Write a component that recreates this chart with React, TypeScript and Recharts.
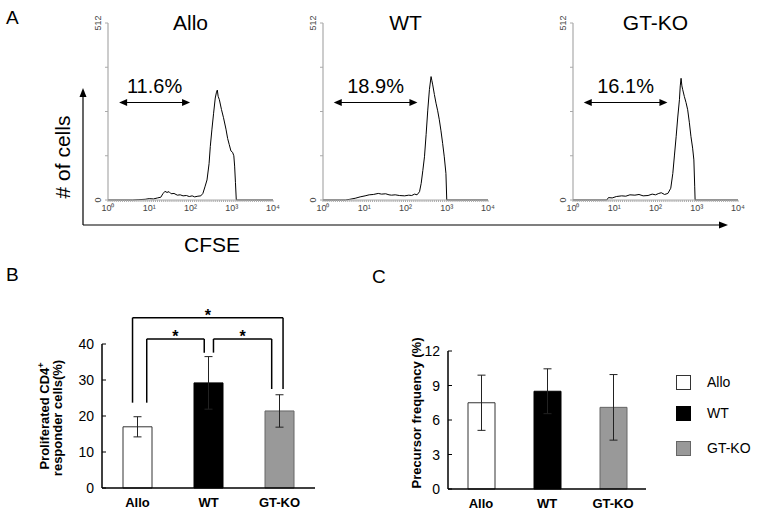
import React from 'react';
import {
  LineChart,
  Line,
  XAxis,
  YAxis,
  ReferenceLine,
  BarChart,
  Bar,
  Cell,
  ErrorBar,
} from 'recharts';

// groups / panel titles
const groups = ['Allo', 'WT', 'GT-KO'];

// CFSE histograms: [log10 CFSE, # of cells]
const alloHist: [number, number][] = [
  [0, 0], [0.6, 0], [0.75, 1], [0.9, 2], [1.0, 4], [1.1, 3], [1.2, 6], [1.28, 8],
  [1.33, 18], [1.38, 25], [1.43, 22], [1.48, 24], [1.53, 18], [1.6, 19], [1.68, 14],
  [1.75, 15], [1.82, 12], [1.9, 13], [1.97, 10], [2.04, 12], [2.1, 9], [2.18, 11],
  [2.25, 12], [2.3, 19], [2.35, 38], [2.4, 58], [2.45, 105], [2.48, 155], [2.52, 205],
  [2.56, 251], [2.6, 295], [2.63, 312], [2.65, 318], [2.67, 300], [2.7, 290],
  [2.75, 262], [2.8, 238], [2.86, 205], [2.9, 178], [2.94, 160], [2.98, 142],
  [3.02, 138], [3.05, 128], [3.07, 98], [3.09, 50], [3.11, 0], [4, 0],
];
const wtHist: [number, number][] = [
  [0, 0], [0.54, 0], [0.65, 2], [0.78, 5], [0.9, 9], [1.02, 12], [1.12, 15],
  [1.22, 16], [1.34, 19], [1.42, 17], [1.52, 18], [1.6, 15], [1.66, 14], [1.75, 15],
  [1.85, 13], [1.98, 12], [2.08, 14], [2.15, 13], [2.22, 17], [2.28, 15],
  [2.34, 24], [2.38, 48], [2.42, 85], [2.46, 125], [2.5, 190], [2.54, 260],
  [2.58, 320], [2.62, 357], [2.64, 345], [2.66, 333], [2.7, 305], [2.74, 280],
  [2.78, 258], [2.82, 232], [2.86, 200], [2.9, 164], [2.94, 125], [2.98, 77],
  [3.0, 0], [4, 0],
];
const gtkoHist: [number, number][] = [
  [0, 0], [0.82, 0], [0.86, 7], [0.95, 6], [1.05, 10], [1.18, 12], [1.28, 11],
  [1.38, 15], [1.5, 14], [1.6, 16], [1.7, 12], [1.82, 13], [1.92, 17], [2.0, 15],
  [2.08, 19], [2.14, 21], [2.22, 16], [2.3, 19], [2.37, 34], [2.42, 77],
  [2.46, 130], [2.5, 183], [2.54, 240], [2.58, 290], [2.6, 330], [2.62, 352],
  [2.64, 330], [2.66, 319], [2.7, 299], [2.74, 282], [2.78, 261], [2.82, 225],
  [2.86, 183], [2.9, 150], [2.93, 116], [2.95, 40], [2.96, 0], [4, 0],
];
const histograms = [alloHist, wtHist, gtkoHist];

// gates (proliferated fraction)
const gatePercents = ['11.6%', '18.9%', '16.1%'];
const gateStart = [0.27, 0.26, 0.26];
const gateEnd = [1.99, 2.29, 2.29];
const gateLevel = 282;

const decadeLabels = ['10⁰', '10¹', '10²', '10³', '10⁴'];
const countTicks = [0, 128, 256, 384, 512];

// panel B
const proliferated = [17.0, 29.2, 21.4];
const proliferatedErr = [2.8, 7.3, 4.5];
const proliferatedTicks = [0, 10, 20, 30, 40];
// significance brackets (x in group position units, y in %)
const bracketFrom = [-0.07, 0.13, 1.07];
const bracketTo = [2.05, 0.94, 1.89];
const bracketTop = [47.3, 41.4, 41.4];
const bracketLeftEnd = [23.7, 23.7, 37.6];
const bracketRightEnd = [27.5, 37.6, 27.5];

// panel C
const precursor = [7.5, 8.5, 7.1];
const precursorErr = [2.4, 1.95, 2.85];
const precursorTicks = [0, 3, 6, 9, 12];

const barFill = ['#ffffff', '#000000', '#999999'];
const barStroke = ['#333333', '#000000', '#666666'];

const FONT = 'Arial, "Liberation Sans", Helvetica, sans-serif';

const minorTicks = Array.from({ length: 81 }, (_, i) => i * 0.05);

const HistTick = (props: any) => {
  const { x, y, payload } = props;
  const v = payload.value;
  if (Math.abs(v - Math.round(v)) > 1e-6) return null;
  return (
    <text x={x} y={y + 7} textAnchor="middle" fontSize={9} fill="#444" fontFamily={FONT}>
      {decadeLabels[Math.round(v)]}
    </text>
  );
};

const CountTick = (props: any) => {
  const { x, y, payload } = props;
  if (payload.value !== 0 && payload.value !== 512) return null;
  return (
    <text
      x={x - 2}
      y={y}
      transform={`rotate(-90, ${x - 2}, ${y})`}
      textAnchor="middle"
      fontSize={9}
      fill="#444"
      fontFamily={FONT}
    >
      {payload.value}
    </text>
  );
};

const GateArrow = (props: any) => {
  const { x1, y1, x2, label } = props;
  const h = 3.5;
  return (
    <g>
      <line x1={x1 + 4} y1={y1} x2={x2 - 4} y2={y1} stroke="#000" strokeWidth={1.2} />
      <polygon points={`${x1},${y1} ${x1 + 8},${y1 - h} ${x1 + 8},${y1 + h}`} fill="#000" />
      <polygon points={`${x2},${y1} ${x2 - 8},${y1 - h} ${x2 - 8},${y1 + h}`} fill="#000" />
      <text
        x={(x1 + x2) / 2}
        y={y1 - 10}
        textAnchor="middle"
        fontSize={20}
        fill="#000"
        fontFamily={FONT}
      >
        {label}
      </text>
    </g>
  );
};

const Histogram = ({ index, left }: { index: number; left: number }) => {
  const data = histograms[index].map(([x, n]) => ({ x, n }));
  return (
    <div style={{ position: 'absolute', left, top: 0 }}>
      <LineChart
        width={200}
        height={225}
        data={data}
        margin={{ top: 23, right: 7, left: 0, bottom: 5 }}
      >
        <XAxis
          dataKey="x"
          type="number"
          domain={[0, 4]}
          ticks={minorTicks}
          interval={0}
          tick={<HistTick />}
          tickSize={2}
          tickLine={{ stroke: '#aaa' }}
          axisLine={{ stroke: '#aaa' }}
          height={20}
        />
        <YAxis
          type="number"
          domain={[0, 512]}
          ticks={countTicks}
          interval={0}
          width={28}
          tickSize={3}
          tickMargin={2}
          tick={<CountTick />}
          tickLine={{ stroke: '#aaa' }}
          axisLine={{ stroke: '#999' }}
        />
        <ReferenceLine
          segment={[
            { x: gateStart[index], y: gateLevel },
            { x: gateEnd[index], y: gateLevel },
          ]}
          ifOverflow="visible"
          shape={(p: any) => <GateArrow {...p} label={gatePercents[index]} />}
        />
        <Line
          type="linear"
          dataKey="n"
          stroke="#000"
          strokeWidth={1}
          dot={false}
          isAnimationActive={false}
        />
      </LineChart>
      <div
        style={{
          position: 'absolute',
          left: 28,
          width: 165,
          top: 10,
          textAlign: 'center',
          fontFamily: FONT,
          fontSize: 21,
          lineHeight: '26px',
        }}
      >
        {groups[index]}
      </div>
    </div>
  );
};

const BarTick = (props: any) => {
  const { x, y, payload } = props;
  return (
    <g>
      <line x1={x + 8} y1={y} x2={x + 12} y2={y} stroke="#000" strokeWidth={1} />
      <text
        x={x}
        y={y}
        dy="0.36em"
        textAnchor="end"
        fontSize={14}
        fill="#000"
        fontFamily={FONT}
      >
        {payload.value}
      </text>
    </g>
  );
};

const CategoryTick = (props: any) => {
  const { x, y, payload } = props;
  const v = payload.value;
  return (
    <text
      x={x}
      y={y}
      dy="0.71em"
      textAnchor="middle"
      fontSize={13}
      fontWeight="bold"
      fill="#000"
      fontFamily={FONT}
    >
      {typeof v === 'number' ? groups[v] : v}
    </text>
  );
};

const PanelB = () => {
  const data = groups.map((g, i) => ({
    name: g,
    pos: i,
    value: proliferated[i],
    err: proliferatedErr[i],
  }));
  return (
    <div style={{ position: 'absolute', left: 0, top: 280 }}>
      <BarChart
        width={330}
        height={237}
        data={data}
        margin={{ top: 64, right: 15, left: 62, bottom: 4 }}
      >
        <XAxis
          dataKey="pos"
          type="number"
          domain={[-0.5, 2.5]}
          ticks={[0, 1, 2]}
          interval={0}
          allowDataOverflow
          tick={<CategoryTick />}
          tickLine={false}
          tickSize={0}
          tickMargin={10}
          axisLine={{ stroke: '#000', strokeWidth: 1.5 }}
          height={25}
        />
        <YAxis
          domain={[0, 40]}
          ticks={proliferatedTicks}
          interval={0}
          width={40}
          tickSize={0}
          tickMargin={8}
          tickLine={false}
          tick={<BarTick />}
          axisLine={{ stroke: '#000', strokeWidth: 1.5 }}
        />
        <Bar dataKey="value" barSize={29} isAnimationActive={false}>
          {data.map((d, i) => (
            <Cell key={d.name} fill={barFill[i]} stroke={barStroke[i]} strokeWidth={1} />
          ))}
          <ErrorBar dataKey="err" width={4} stroke="#222" strokeWidth={1} direction="y" />
        </Bar>
        {bracketFrom.map((from, i) => (
          <React.Fragment key={`br-${i}`}>
            <ReferenceLine
              ifOverflow="visible"
              stroke="#000"
              strokeWidth={1.5}
              segment={[
                { x: from, y: bracketLeftEnd[i] },
                { x: from, y: bracketTop[i] },
              ]}
            />
            <ReferenceLine
              ifOverflow="visible"
              stroke="#000"
              strokeWidth={1.5}
              segment={[
                { x: from, y: bracketTop[i] },
                { x: bracketTo[i], y: bracketTop[i] },
              ]}
              label={{
                value: '*',
                position: 'top',
                offset: -3,
                fontSize: 16,
                fontWeight: 'bold',
                fill: '#000',
                fontFamily: FONT,
              }}
            />
            <ReferenceLine
              ifOverflow="visible"
              stroke="#000"
              strokeWidth={1.5}
              segment={[
                { x: bracketTo[i], y: bracketTop[i] },
                { x: bracketTo[i], y: bracketRightEnd[i] },
              ]}
            />
          </React.Fragment>
        ))}
      </BarChart>
      <svg
        width={70}
        height={237}
        style={{ position: 'absolute', left: 0, top: 0, overflow: 'visible' }}
      >
        <text
          transform="rotate(-90) translate(-136, 49)"
          textAnchor="middle"
          fontSize={13}
          fontWeight="bold"
          fontFamily={FONT}
        >
          Proliferated CD4
          <tspan dy={-5} fontSize={9}>+</tspan>
        </text>
        <text
          transform="rotate(-90) translate(-138, 62)"
          textAnchor="middle"
          fontSize={13}
          fontWeight="bold"
          fontFamily={FONT}
        >
          responder cells(%)
        </text>
      </svg>
    </div>
  );
};

const PanelC = () => {
  const data = groups.map((g, i) => ({
    name: g,
    value: precursor[i],
    err: precursorErr[i],
  }));
  return (
    <div style={{ position: 'absolute', left: 380, top: 300 }}>
      <BarChart
        width={280}
        height={217}
        data={data}
        margin={{ top: 51, right: 14, left: 28, bottom: 3 }}
      >
        <XAxis
          dataKey="name"
          tick={<CategoryTick />}
          tickLine={false}
          tickSize={0}
          tickMargin={10}
          axisLine={{ stroke: '#000', strokeWidth: 1.5 }}
          height={25}
        />
        <YAxis
          domain={[0, 12]}
          ticks={precursorTicks}
          interval={0}
          width={40}
          tickSize={0}
          tickMargin={8}
          tickLine={false}
          tick={<BarTick />}
          axisLine={{ stroke: '#000', strokeWidth: 1.5 }}
        />
        <Bar dataKey="value" barSize={27} isAnimationActive={false}>
          {data.map((d, i) => (
            <Cell key={d.name} fill={barFill[i]} stroke={barStroke[i]} strokeWidth={1} />
          ))}
          <ErrorBar dataKey="err" width={4} stroke="#222" strokeWidth={1} direction="y" />
        </Bar>
      </BarChart>
      <svg
        width={50}
        height={217}
        style={{ position: 'absolute', left: 0, top: 0, overflow: 'visible' }}
      >
        <text
          transform="rotate(-90) translate(-113, 41)"
          textAnchor="middle"
          fontSize={13}
          fontWeight="bold"
          fontFamily={FONT}
        >
          Precursor frequency (%)
        </text>
      </svg>
      {groups.map((g, i) => (
        <div
          key={g}
          style={{
            position: 'absolute',
            left: 296,
            top: [74, 105, 140][i],
            display: 'flex',
            alignItems: 'center',
            fontFamily: FONT,
            fontSize: 14,
            whiteSpace: 'nowrap',
          }}
        >
          <div
            style={{
              width: 13,
              height: 13,
              background: barFill[i],
              border: `1px solid ${barStroke[i]}`,
            }}
          />
          <span style={{ marginLeft: 16 }}>{g}</span>
        </div>
      ))}
    </div>
  );
};

const letterStyle: React.CSSProperties = {
  position: 'absolute',
  fontFamily: FONT,
  fontSize: 19,
  lineHeight: '20px',
};

export default function App() {
  return (
    <div
      style={{
        position: 'fixed',
        left: 0,
        top: 0,
        width: 761,
        height: 517,
        background: '#fff',
        overflow: 'hidden',
      }}
    >
      <div style={{ ...letterStyle, left: 6, top: 8 }}>A</div>
      <div style={{ ...letterStyle, left: 6, top: 265 }}>B</div>
      <div style={{ ...letterStyle, left: 372, top: 267 }}>C</div>

      <svg
        width={761}
        height={260}
        style={{ position: 'absolute', left: 0, top: 0 }}
      >
        <line x1={83} y1={225} x2={83} y2={96} stroke="#000" strokeWidth={1.2} />
        <polygon points="83,88 79.5,97 86.5,97" fill="#000" />
        <line x1={83} y1={225} x2={720} y2={225} stroke="#000" strokeWidth={1.2} />
        <polygon points="728,225 719,221.5 719,228.5" fill="#000" />
        <text
          transform="rotate(-90) translate(-157, 70)"
          textAnchor="middle"
          fontSize={21}
          fontFamily={FONT}
        >
          # of cells
        </text>
        <text x={212} y={252} textAnchor="middle" fontSize={21} fontFamily={FONT}>
          CFSE
        </text>
      </svg>

      <Histogram index={0} left={80} />
      <Histogram index={1} left={295} />
      <Histogram index={2} left={545} />

      <PanelB />
      <PanelC />
    </div>
  );
}
